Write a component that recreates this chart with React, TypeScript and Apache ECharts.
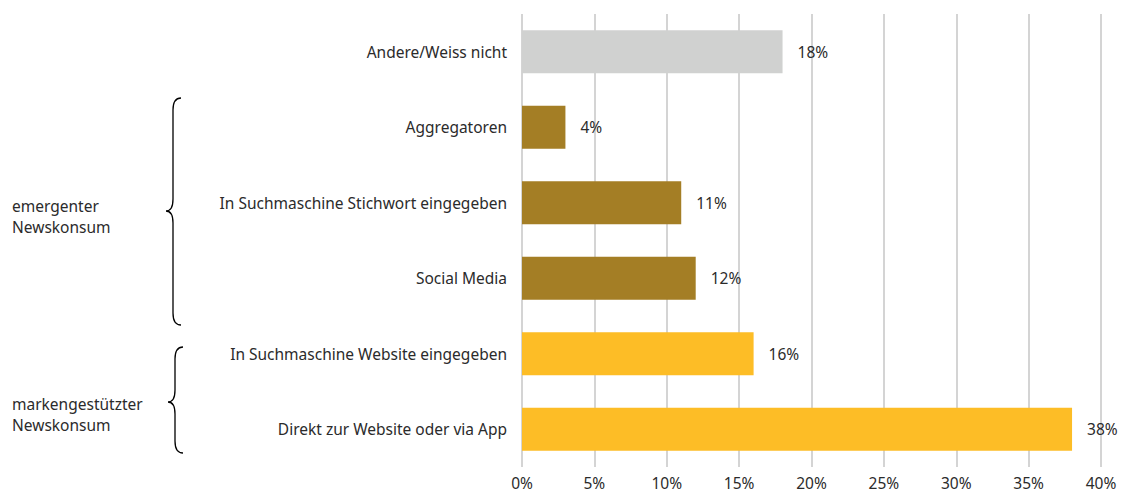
import React, { useEffect, useRef } from "react";
import * as echarts from "echarts";

const categories = [
  "Andere/Weiss nicht",
  "Aggregatoren",
  "In Suchmaschine Stichwort eingegeben",
  "Social Media",
  "In Suchmaschine Website eingegeben",
  "Direkt zur Website oder via App",
];
const values = [18, 3, 11, 12, 16, 38];
const valueLabels = ["18%", "4%", "11%", "12%", "16%", "38%"];
const groups = ["other", "emergent", "emergent", "emergent", "brand", "brand"];
const groupColors: Record<string, string> = {
  other: "#d0d1d0",
  emergent: "#a47e25",
  brand: "#fdbd26",
};
const groupTitles = [
  ["emergenter", "Newskonsum"],
  ["markengestützter", "Newskonsum"],
];

const FONT = "'Noto Sans', 'Open Sans', sans-serif";
const FS = 15.5;
const TXT = "#2b2b2b";

let registered = false;
function registerBraces() {
  if (registered) return;
  registered = true;
  const braceA =
    "M 181 98 Q 173 98 173 110 L 173 199 Q 173 211 166 211 Q 173 211 173 223 L 173 313 Q 173 325 181 325";
  const braceB =
    "M 183 347 Q 175 347 175 359 L 175 390 Q 175 402 168 402 Q 175 402 175 414 L 175 441 Q 175 453 183 453";
  echarts.graphic.registerShape("braceA", echarts.graphic.extendPath(braceA, {}));
  echarts.graphic.registerShape("braceB", echarts.graphic.extendPath(braceB, {}));
}

function titleText(text: string, y: number) {
  return {
    type: "text",
    x: 12,
    y,
    style: {
      text,
      fontSize: FS,
      fontFamily: FONT,
      fill: TXT,
      textVerticalAlign: "middle",
      verticalAlign: "middle",
    },
  };
}

export default function App() {
  const ref = useRef<HTMLDivElement>(null);
  useEffect(() => {
    if (!ref.current) return;
    registerBraces();
    const chart = echarts.init(ref.current, null, { renderer: "svg" });
    chart.setOption({
      animation: false,
      backgroundColor: "#ffffff",
      textStyle: { fontFamily: FONT },
      grid: { left: 522, right: 26, top: 14, bottom: 27, containLabel: false },
      xAxis: {
        type: "value",
        min: 0,
        max: 40,
        interval: 5,
        axisLine: { show: false },
        axisTick: { show: false },
        splitLine: { show: true, lineStyle: { color: "#d4d4d4", width: 2 } },
        axisLabel: {
          formatter: (v: number) => v + "%",
          color: TXT,
          fontSize: FS,
          lineHeight: 16,
          fontFamily: FONT,
          margin: 8,
        },
      },
      yAxis: {
        type: "category",
        data: categories,
        inverse: true,
        axisLine: { show: false },
        axisTick: { show: false },
        splitLine: { show: false },
        axisLabel: {
          color: TXT,
          fontSize: FS,
          fontFamily: FONT,
          margin: 15,
        },
      },
      series: [
        {
          type: "bar",
          barWidth: 43,
          data: values.map((v, i) => ({
            value: v,
            itemStyle: { color: groupColors[groups[i]] },
          })),
          label: {
            show: true,
            position: "right",
            distance: 15,
            color: TXT,
            fontSize: FS,
            fontFamily: FONT,
            formatter: (p: any) => valueLabels[p.dataIndex],
          },
        },
      ],
      graphic: [
        {
          type: "braceA",
          style: { fill: "none", stroke: "#000000", lineWidth: 1.3 },
        },
        {
          type: "braceB",
          style: { fill: "none", stroke: "#000000", lineWidth: 1.3 },
        },
        titleText(groupTitles[0][0], 206),
        titleText(groupTitles[0][1], 227),
        titleText(groupTitles[1][0], 404),
        titleText(groupTitles[1][1], 425),
      ],
    });
    return () => chart.dispose();
  }, []);
  return (
    <div
      ref={ref}
      style={{ position: "absolute", left: 0, top: 0, width: 1127, height: 494 }}
    />
  );
}
